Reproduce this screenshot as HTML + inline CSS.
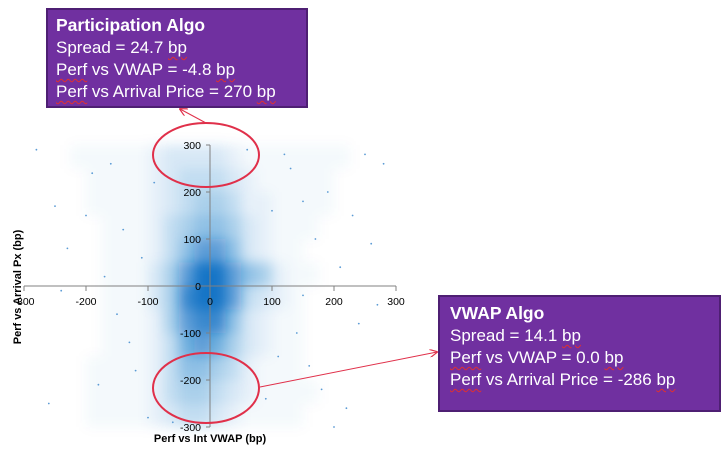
<!DOCTYPE html>
<html><head><meta charset="utf-8"><style>
body{margin:0;background:#fff;width:723px;height:449px;overflow:hidden;font-family:"Liberation Sans",sans-serif;}
.box{position:absolute;background:#7030a0;border:2px solid #4e1f73;color:#fff;font-size:17px;line-height:22px;box-sizing:border-box;}
.box b{font-size:17.5px;}
.sq{text-decoration:underline wavy #e03030;text-decoration-thickness:1px;text-underline-offset:3px;}
</style></head><body>
<svg id="chart" width="723" height="449" style="position:absolute;left:0;top:0">
<defs>
<filter id="blur" x="-20%" y="-20%" width="140%" height="140%"><feGaussianBlur stdDeviation="6"/></filter>
<marker id="ah" viewBox="0 0 10 10" refX="9" refY="5" markerWidth="8" markerHeight="8" orient="auto-start-reverse"><path d="M0,0 L10,5 L0,10" fill="none" stroke="#e0304a" stroke-width="1.5"/></marker>
</defs>
<g id="density" filter="url(#blur)"></g>
<g id="pts"></g>
<g id="axes"></g>
<ellipse cx="206" cy="155" rx="53" ry="32" fill="none" stroke="#e0304a" stroke-width="2"/>
<ellipse cx="206" cy="388" rx="53" ry="35" fill="none" stroke="#e0304a" stroke-width="2"/>
<line x1="206" y1="123" x2="180" y2="109" stroke="#e0304a" stroke-width="1" marker-end="url(#ah)"/>
<line x1="260" y1="387" x2="437" y2="352" stroke="#e0304a" stroke-width="1" marker-end="url(#ah)"/>
<text x="210" y="442" text-anchor="middle" font-size="11" font-weight="bold" fill="#000">Perf vs Int VWAP  (bp)</text>
<text transform="translate(21,287) rotate(-90)" text-anchor="middle" font-size="11" font-weight="bold" fill="#000">Perf vs Arrival Px (bp)</text>
</svg>

<div class="box" style="left:46px;top:8px;width:262px;height:100px;padding:4px 0 0 8px;">
<b>Participation Algo</b><br>Spread = 24.7 <span class="sq">bp</span><br><span class="sq">Perf</span> vs VWAP  = -4.8 <span class="sq">bp</span><br><span class="sq">Perf</span> vs Arrival  Price = 270 <span class="sq">bp</span>
</div>
<div class="box" style="left:438px;top:295px;width:283px;height:117px;padding:5px 0 0 10px;">
<b>VWAP Algo</b><br>Spread = 14.1 <span class="sq">bp</span><br><span class="sq">Perf</span> vs VWAP  = 0.0 <span class="sq">bp</span><br><span class="sq">Perf</span> vs Arrival  Price = -286 <span class="sq">bp</span>
</div>

<script>
const xTicks=[-300,-200,-100,0,100,200,300];
const yTicks=[-300,-200,-100,0,100,200,300];
const binXStart=-300, binW=25, binYTop=300, binH=50;
// density counts: rows from +300 down to -300 (50bp each), cols from -300 to +300 (25bp each)
const densityRows=[
[0,0,0,1,1,1,1,1,2,3,3,3,3,2,1,1,1,1,1,1,1,0,0,0],
[0,0,0,0,1,1,1,1,2,3,4,4,4,3,2,1,1,1,1,1,0,0,0,0],
[0,0,0,0,1,1,1,1,2,3,4,5,5,4,2,2,1,1,1,1,0,0,0,0],
[0,0,0,0,0,1,1,1,2,4,5,6,6,5,3,2,1,1,1,0,0,0,0,0],
[0,0,0,0,0,1,1,1,2,4,6,8,8,6,3,2,1,1,0,0,0,0,0,0],
[0,0,0,0,0,1,1,1,3,5,8,10,10,8,6,5,2,1,1,0,0,0,0,0],
[0,0,0,0,0,1,1,1,3,5,9,10,10,8,4,3,2,1,0,0,0,0,0,0],
[0,0,0,0,0,1,1,1,2,5,8,9,9,6,3,2,1,1,0,0,0,0,0,0],
[0,0,0,0,0,1,1,1,2,4,7,8,7,5,3,2,1,1,0,0,0,0,0,0],
[0,0,0,0,1,1,1,1,2,4,6,6,5,4,2,1,1,1,0,0,0,0,0,0],
[0,0,0,0,1,1,1,1,2,4,5,5,4,3,2,1,1,1,1,0,0,0,0,0],
[0,0,0,0,1,1,1,1,2,3,4,4,3,2,1,1,1,1,0,0,0,0,0,0]
];
const outlierX=[-280,-250,-230,-190,-170,-150,-140,-120,-260,-200,-160,-130,-110,130,150,170,190,210,230,250,270,140,160,180,220,240,120,110,-100,-90,90,100,260,-240,200,150,-180,280,-60,60];
const outlierY=[290,170,80,240,20,-60,120,-180,-250,150,260,-120,60,250,180,100,200,40,150,280,-40,-100,-170,-220,-260,-80,280,-150,-280,220,-240,160,90,-10,-300,-20,-210,260,-290,290];
const X0=210, XS=186/300, Y0=286, YS=141/300;
const xs=v=>X0+v*XS, ys=v=>Y0-v*YS;
const NS='http://www.w3.org/2000/svg';
const dg=document.getElementById('density');
densityRows.forEach((row,r)=>row.forEach((v,c)=>{
  if(!v)return;
  const el=document.createElementNS(NS,'rect');
  
  
  const x1=xs(binXStart+c*binW), y1=ys(binYTop-r*binH);
  el.setAttribute('x',x1);el.setAttribute('y',y1);
  el.setAttribute('width',xs(binXStart+(c+1)*binW)-x1);
  el.setAttribute('height',ys(binYTop-(r+1)*binH)-y1);
  el.setAttribute('fill','#0a6fc4');
  el.setAttribute('opacity',Math.min(1,Math.pow(v/10,1.6)*0.95+0.02));
  dg.appendChild(el);
}));
const pg=document.getElementById('pts');
outlierX.forEach((x,i)=>{
  const el=document.createElementNS(NS,'circle');
  
  
  el.setAttribute('cx',xs(x));el.setAttribute('cy',ys(outlierY[i]));
  el.setAttribute('r',0.9);el.setAttribute('fill','#5b9bd5');
  pg.appendChild(el);
});
const ag=document.getElementById('axes');
function add(tag,attrs,name,text){
  const el=document.createElementNS(NS,tag);
  for(const k in attrs)el.setAttribute(k,attrs[k]);
  
  
  if(text!==undefined)el.textContent=text;
  ag.appendChild(el);
}
add('line',{x1:xs(-300),y1:Y0,x2:xs(300),y2:Y0,stroke:'#808080'},'x-axis-line');
add('line',{x1:X0,y1:ys(300),x2:X0,y2:ys(-300),stroke:'#808080'},'y-axis-line');
xTicks.forEach(t=>{
  add('line',{x1:xs(t),y1:Y0,x2:xs(t),y2:Y0+5,stroke:'#808080'},'x-tick');
  add('text',{x:xs(t),y:Y0+19,'text-anchor':'middle','font-size':'10.5',fill:'#000'},'x-tick-label',String(t));
});
yTicks.forEach(t=>{
  add('line',{x1:X0-4,y1:ys(t),x2:X0,y2:ys(t),stroke:'#808080'},'y-tick');
  add('text',{x:X0-9,y:ys(t)+4,'text-anchor':'end','font-size':'10.5',fill:'#000'},'y-tick-label',String(t));
});
</script>
</body></html>
